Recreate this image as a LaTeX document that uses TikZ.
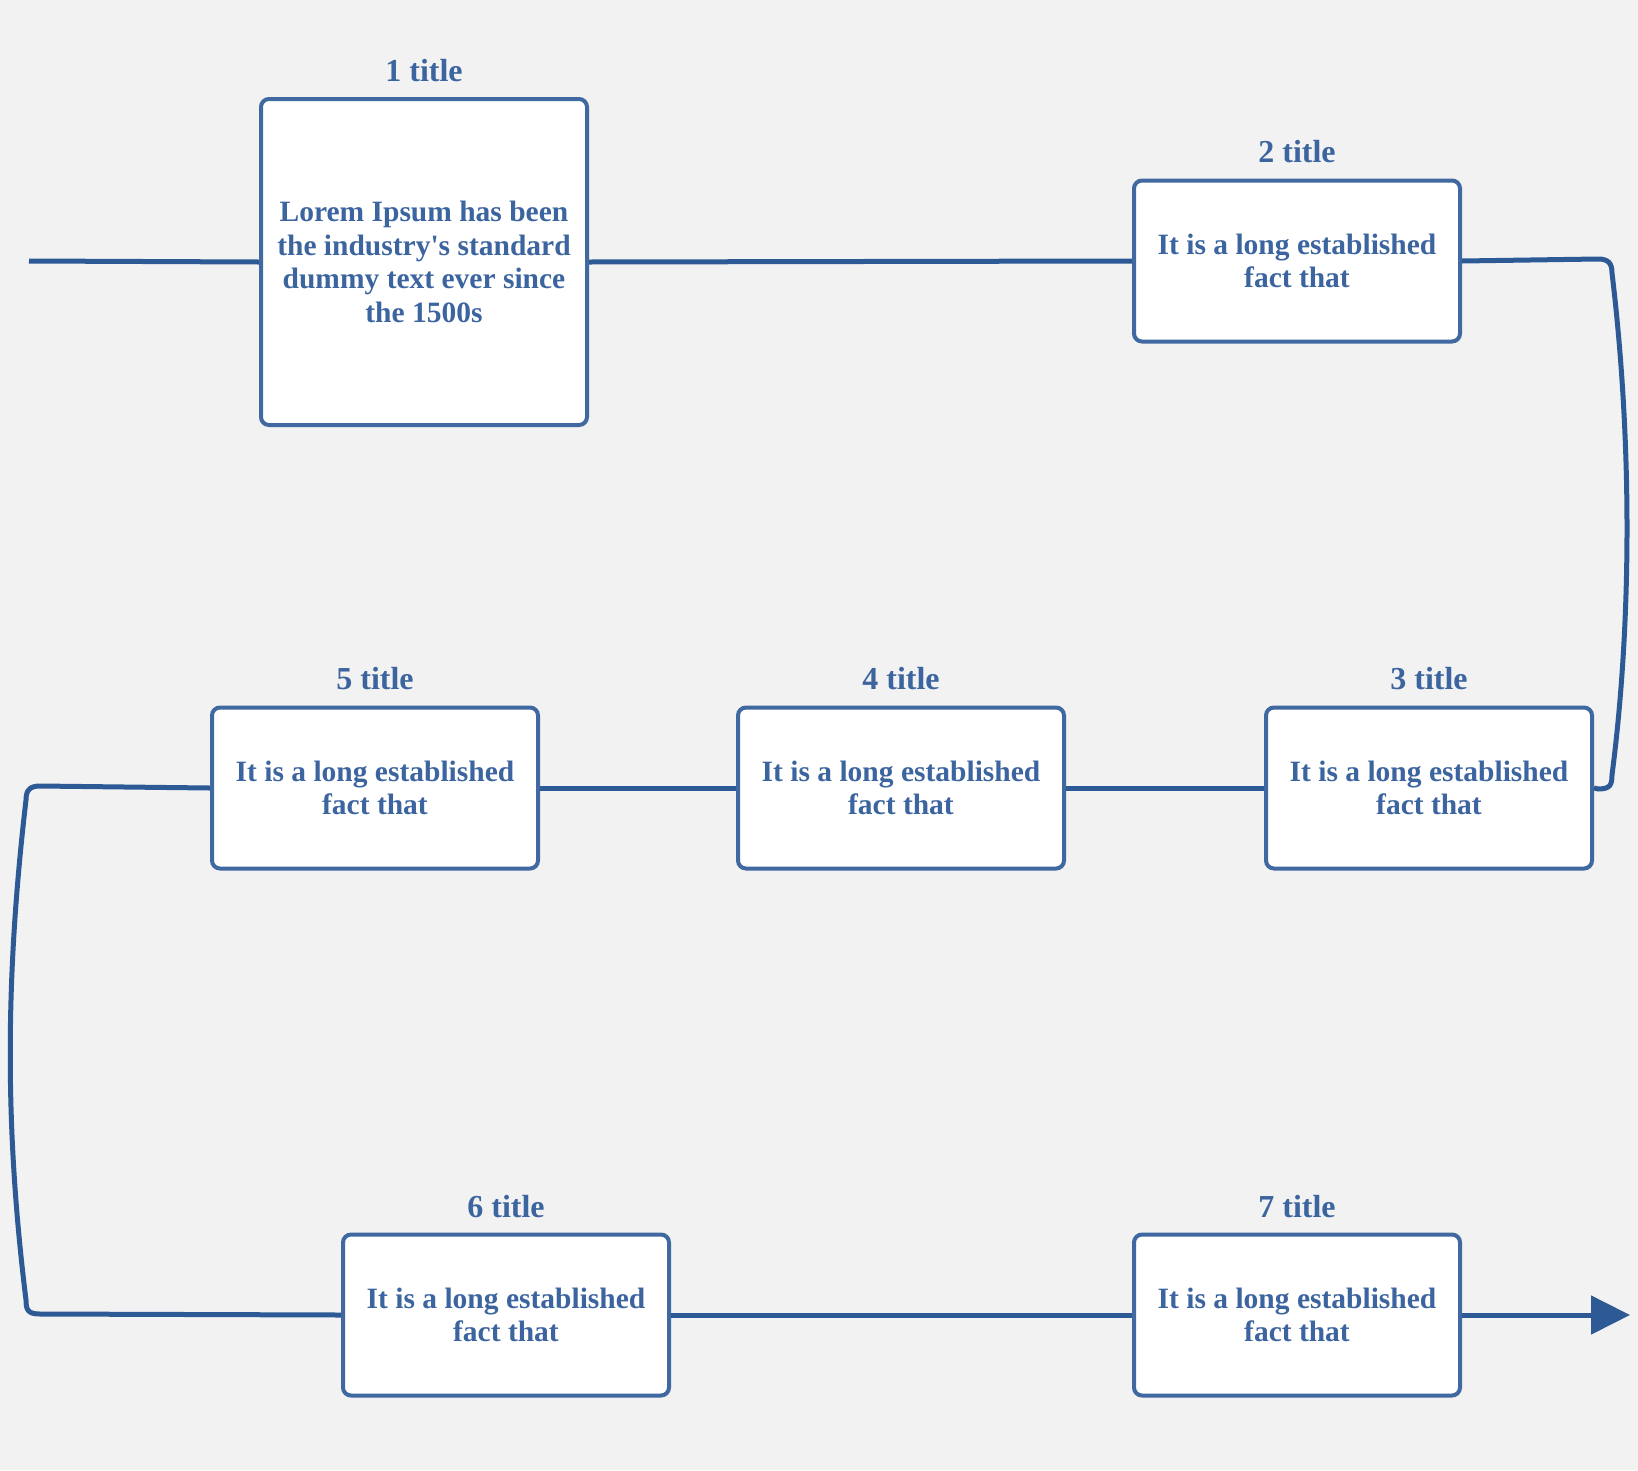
\documentclass[tikz,border=0pt]{standalone}
\usepackage{fontspec}
\setmainfont{Liberation Serif}
\usetikzlibrary{positioning,arrows.meta}
\definecolor{bgcol}{HTML}{F2F2F2}
\definecolor{boxcol}{HTML}{4069A1}
\definecolor{flowcol}{HTML}{2D5A95}
\definecolor{txtcol}{HTML}{3C65A0}

\begin{document}
\begin{tikzpicture}[x=1pt, y=-1pt,
  box/.style={draw=boxcol, fill=white, line width=4pt, rounded corners=8pt,
    minimum width=326pt, minimum height=161pt, align=center, text=txtcol,
    font=\fontsize{29.5}{33.5}\selectfont\bfseries},
  tall/.style={box, minimum height=326pt},
  title/.style={inner sep=0pt, text=txtcol, font=\fontsize{32}{36}\selectfont\bfseries},
  flow/.style={draw=flowcol, line width=5pt, line join=round}]
  \fill[bgcol] (0,0) rectangle (1638,1470);
  \useasboundingbox (0,0) rectangle (1638,1470);
  \node[tall] (1) at (424, 262) {Lorem Ipsum has been\\the industry\textquotesingle s standard\\dummy text ever since\\the 1500s};
  \node[box] (2) at (1297, 261) {It is a long established\\fact that};
  \node[box] (3) at (1429, 788) {It is a long established\\fact that};
  \node[box] (4) at (901, 788) {It is a long established\\fact that};
  \node[box] (5) at (375, 788) {It is a long established\\fact that};
  \node[box] (6) at (506, 1315) {It is a long established\\fact that};
  \node[box] (7) at (1297, 1315) {It is a long established\\fact that};
  \node[title, above=15pt of 1] (t1) {1 title};
  \node[title, above=15pt of 2] (t2) {2 title};
  \node[title, above=15pt of 3] (t3) {3 title};
  \node[title, above=15pt of 4] (t4) {4 title};
  \node[title, above=15pt of 5] (t5) {5 title};
  \node[title, above=15pt of 6] (t6) {6 title};
  \node[title, above=15pt of 7] (t7) {7 title};
  \coordinate (in) at (29, 261);
  \coordinate (out) at (1630, 1315);
  \coordinate (ne) at (1612, 259);
  \coordinate (se) at (1612, 789);
  \coordinate (nw) at (26, 786);
  \coordinate (sw) at (26, 1314);
  \draw[flow] (in) -- (1.west);
  \draw[flow] (1.east) -- (2.west);
  \draw[flow] (2.east) -- ([xshift=-14pt]ne) .. controls ([xshift=-4pt]ne) and ([yshift=-4pt]ne) .. ([yshift=-14pt]ne)
    .. controls (1632, 440) and (1632, 620) .. ([yshift=14pt]se)
    .. controls ([yshift=4pt]se) and ([xshift=-2pt]se) .. ([xshift=-14pt]se) -- (3.east);
  \draw[flow] (3.west) -- (4.east);
  \draw[flow] (4.west) -- (5.east);
  \draw[flow] (5.west) -- ([xshift=14pt]nw) .. controls ([xshift=4pt]nw) and ([yshift=-4pt]nw) .. ([yshift=-14pt]nw)
    .. controls (5, 980) and (5, 1130) .. ([yshift=14pt]sw)
    .. controls ([yshift=4pt]sw) and ([xshift=2pt]sw) .. ([xshift=14pt]sw) -- (6.west);
  \draw[flow] (6.east) -- (7.west);
  \draw[flow, -{Triangle[length=39pt, width=38pt]}] (7.east) -- (out);
\end{tikzpicture}
\end{document}
